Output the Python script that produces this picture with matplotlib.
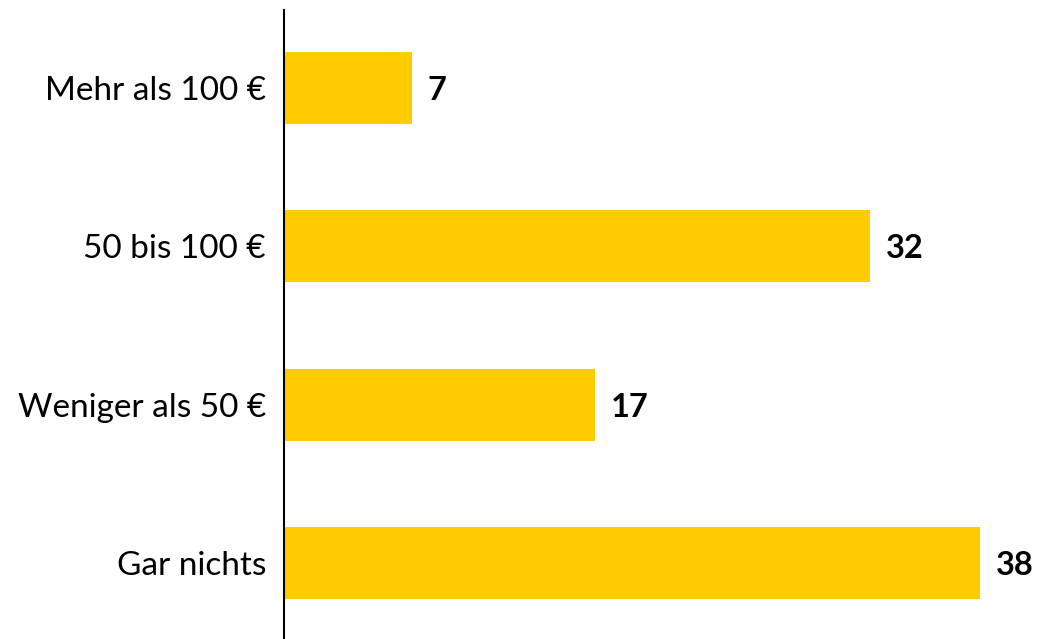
import matplotlib.pyplot as plt

# data (bottom to top)
categories = ["Gar nichts", "Weniger als 50 €", "50 bis 100 €", "Mehr als 100 €"]
values = [38, 17, 32, 7]

plt.rcParams['font.family'] = ['Lato', 'DejaVu Sans']

fig = plt.figure(figsize=(10.41, 6.39), dpi=100)
ax = fig.add_axes([284 / 1041, 0, 1 - 284 / 1041, 629 / 639])

ypos = list(range(len(categories)))
ax.barh(ypos, values, height=0.456, color='#FFCC00')

for y, v in zip(ypos, values):
    ax.text(v + 0.85, y, str(v), va='center_baseline', ha='left',
            fontsize=23.5, fontweight='bold', color='black')

ax.set_yticks(ypos)
ax.set_yticklabels(categories, fontsize=24)
ax.tick_params(axis='y', length=0, pad=13)
ax.set_xticks([])
ax.set_xlim(0, 41.32)
ax.set_ylim(-0.481, 3.494)

for s in ['top', 'right', 'bottom']:
    ax.spines[s].set_visible(False)
ax.spines['left'].set_linewidth(1.5)

fig.savefig('out.png', dpi=100)
